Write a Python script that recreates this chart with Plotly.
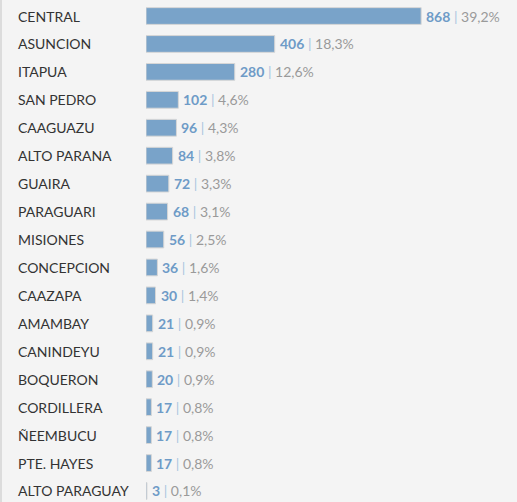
import plotly.graph_objects as go

departamentos = ["CENTRAL", "ASUNCION", "ITAPUA", "SAN PEDRO", "CAAGUAZU", "ALTO PARANA",
                 "GUAIRA", "PARAGUARI", "MISIONES", "CONCEPCION", "CAAZAPA", "AMAMBAY",
                 "CANINDEYU", "BOQUERON", "CORDILLERA", "ÑEEMBUCU", "PTE. HAYES", "ALTO PARAGUAY"]
casos = [868, 406, 280, 102, 96, 84, 72, 68, 56, 36, 30, 21, 21, 20, 17, 17, 17, 3]
porcentajes = ["39,2%", "18,3%", "12,6%", "4,6%", "4,3%", "3,8%", "3,3%", "3,1%", "2,5%",
               "1,6%", "1,4%", "0,9%", "0,9%", "0,9%", "0,8%", "0,8%", "0,8%", "0,1%"]

BG = "#f4f4f4"
BAR = "#79a3c9"
VAL = "#6e9bc7"
SEP = "#a9c5df"
PCT = "#9a9a9a"
FONT = "Lato"

idx = list(range(len(departamentos)))

fig = go.Figure()
fig.add_trace(go.Bar(
    x=casos, y=idx, orientation="h", width=0.6,
    marker=dict(color=BAR, line=dict(color="#d6d6d6", width=1)),
    hoverinfo="skip",
))

for i, v, p in zip(idx, casos, porcentajes):
    fig.add_annotation(
        x=v, y=i, xref="x", yref="y", xshift=3, showarrow=False,
        xanchor="left", yanchor="middle",
        text=f"<b>{v}</b> <span style='color:{SEP}'>|</span> <span style='color:{PCT}'>{p}</span>",
        font=dict(family=FONT, size=14, color=VAL),
    )

for i, d in zip(idx, departamentos):
    fig.add_annotation(x=0, xref="paper", xshift=-130, y=i, yref="y",
                       text=d, showarrow=False, xanchor="left", yanchor="middle",
                       font=dict(family=FONT, size=14, color="#333333"))

fig.update_layout(
    width=517, height=502,
    margin=dict(l=146, r=54, t=0, b=0),
    paper_bgcolor=BG, plot_bgcolor=BG,
    showlegend=False,
    xaxis=dict(range=[0, 1000], visible=False, fixedrange=True),
    yaxis=dict(range=[17.394, -0.573], visible=False, fixedrange=True),
)
fig.add_shape(type="line", xref="paper", yref="paper", x0=-145/317, x1=-145/317, y0=0, y1=1,
              line=dict(color="#dcdcdc", width=2))

fig.write_html("out.html", config={"displayModeBar": False},
               post_script="document.body.style.margin='0';")
